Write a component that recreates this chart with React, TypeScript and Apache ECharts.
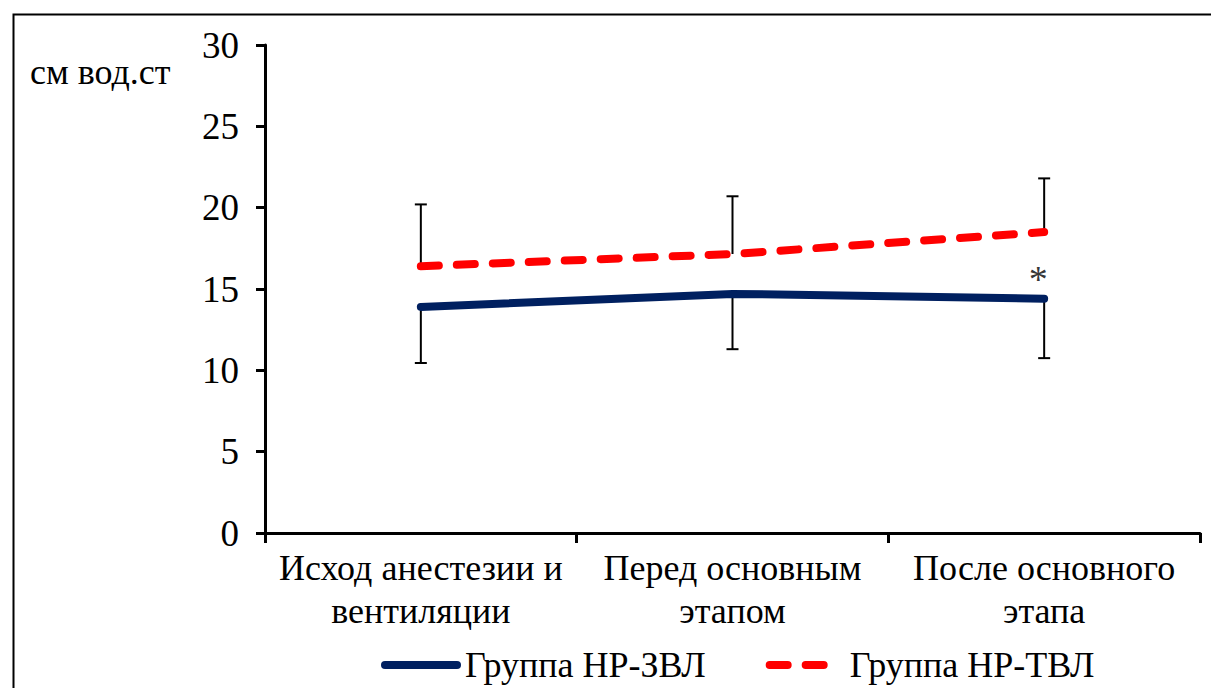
import React, { useEffect, useRef } from "react";
import * as echarts from "echarts";

const categories = ["Исход анестезии и\nвентиляции", "Перед основным\nэтапом", "После основного\nэтапа"];
const seriesNames = ["Группа НР-ЗВЛ", "Группа НР-ТВЛ"];
const zvlMean = [13.9, 14.7, 14.4];
const zvlLow = [10.45, 11.3, 10.75];
const tvlMean = [16.4, 17.15, 18.5];
const tvlHigh = [20.2, 20.7, 21.8];
const yTicks = { min: 0, max: 30, interval: 5 };
const yUnit = "см вод.ст";
const starIndex = 2;

const FONT = "Times New Roman";

export default function App() {
  const ref = useRef<HTMLDivElement>(null);
  useEffect(() => {
    const chart = echarts.init(ref.current!, null, { renderer: "svg" });
    const errData = [
      ...zvlMean.map((m, i) => [i, zvlLow[i], m]),
      ...tvlMean.map((m, i) => [i, m, tvlHigh[i]]),
    ];
    const renderErr = (params: any, api: any) => {
      const x = api.value(0);
      const lo = api.coord([x, api.value(1)]);
      const hi = api.coord([x, api.value(2)]);
      const isLow = params.dataIndex < zvlMean.length;
      const cap = 6;
      const capY = isLow ? lo[1] : hi[1];
      const style = { stroke: "#000", lineWidth: 2 };
      return {
        type: "group",
        children: [
          { type: "line", shape: { x1: lo[0], y1: lo[1], x2: hi[0], y2: hi[1] }, style },
          { type: "line", shape: { x1: lo[0] - cap, y1: capY, x2: lo[0] + cap, y2: capY }, style },
        ],
      };
    };
    chart.setOption({
      animation: false,
      textStyle: { fontFamily: FONT, color: "#000" },
      grid: { left: 265, right: 11, top: 45, bottom: 155, containLabel: false },
      graphic: [
        {
          type: "rect",
          left: 11,
          top: 12,
          shape: { width: 1230, height: 700 },
          style: { fill: "none", stroke: "#000", lineWidth: 2 },
          silent: true,
        },
        {
          type: "text",
          left: 30,
          top: 54,
          style: { text: yUnit, fontFamily: FONT, fontSize: 36, fill: "#000" },
        },
      ],
      legend: {
        top: 647,
        left: 376,
        padding: [0, 5],
        itemWidth: 72,
        itemHeight: 14,
        itemGap: 60,
        itemStyle: { opacity: 0 },
        lineStyle: { width: 8, cap: "round" },
        textStyle: { fontFamily: FONT, fontSize: 36, color: "#000", padding: [0, 0, 0, 3] },
        data: seriesNames,
      },
      xAxis: {
        type: "category",
        data: categories,
        boundaryGap: true,
        axisLine: { lineStyle: { color: "#000", width: 3 } },
        axisTick: { show: true, length: 10, lineStyle: { color: "#000", width: 3 } },
        axisLabel: {
          interval: 0,
          fontFamily: FONT,
          fontSize: 36,
          lineHeight: 43,
          color: "#000",
          margin: 13,
        },
      },
      yAxis: {
        type: "value",
        min: yTicks.min,
        max: yTicks.max,
        interval: yTicks.interval,
        splitLine: { show: false },
        axisLine: { show: true, lineStyle: { color: "#000", width: 3 } },
        axisTick: { show: true, length: 9, lineStyle: { color: "#000", width: 3 } },
        axisLabel: { fontFamily: FONT, fontSize: 37, color: "#000", margin: 26 },
      },
      series: [
        {
          type: "custom",
          name: "err",
          renderItem: renderErr,
          data: errData,
          encode: { x: 0, y: [1, 2] },
          z: 1,
          silent: true,
        },
        {
          name: seriesNames[0],
          type: "line",
          symbol: "none",
          z: 3,
          lineStyle: { color: "#002060", width: 8, cap: "round" },
          itemStyle: { color: "#002060" },
          data: zvlMean,
        },
        {
          name: seriesNames[1],
          type: "line",
          symbol: "none",
          z: 3,
          lineStyle: { color: "#ff0000", width: 8, type: [18, 18], cap: "round" },
          itemStyle: { color: "#ff0000" },
          data: tvlMean,
        },
        {
          name: "star",
          type: "scatter",
          symbolSize: 0,
          silent: true,
          z: 4,
          data: [[starIndex, zvlMean[starIndex]]],
          label: {
            show: true,
            formatter: "*",
            position: "top",
            offset: [-6, 4],
            fontSize: 38,
            fontFamily: FONT,
            color: "#000",
          },
        },
      ],
    });
    return () => chart.dispose();
  }, []);
  return (
    <div
      ref={ref}
      style={{ position: "absolute", left: 0, top: 0, width: 1211, height: 688, background: "#fff" }}
    />
  );
}
